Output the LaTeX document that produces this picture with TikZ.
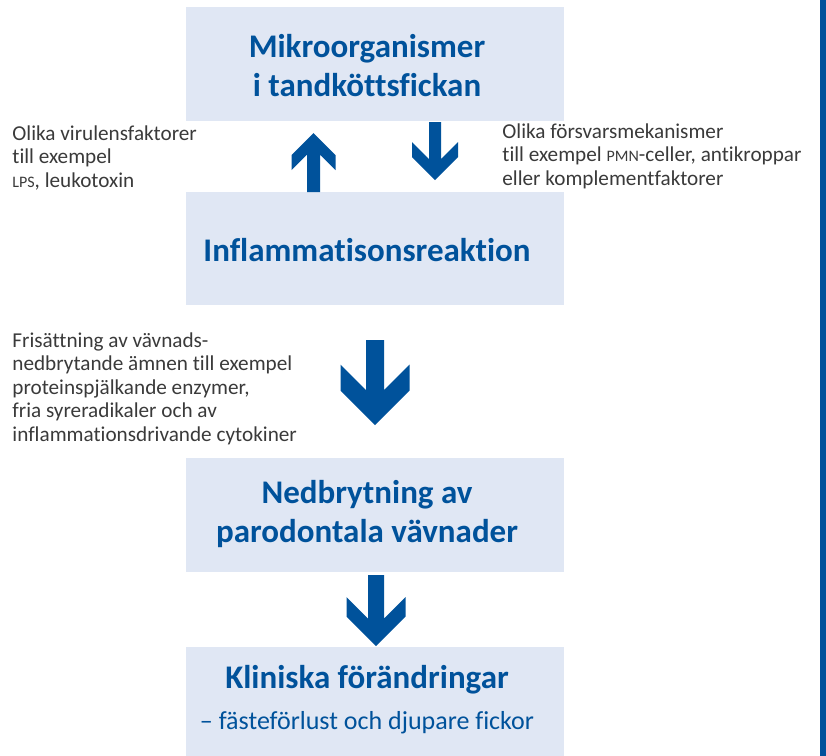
\documentclass[tikz,border=0pt]{standalone}
\usepackage{fontspec}
\setmainfont{Carlito}[Ligatures=NoCommon]
\usetikzlibrary{positioning}

\definecolor{boxblue}{HTML}{E0E7F4}
\definecolor{darkblue}{HTML}{00529B}
\definecolor{textgray}{HTML}{3A3A3A}

% small caps made by hand (LPS, PMN)
\newcommand\smcap[1]{{\fontsize{8}{11.75}\selectfont #1}}

% block arrow: cx, tail y, tip y, shaft half, head half, thickness, dir (1 down, -1 up)
\newcommand\blockarrow[7]{%
  \fill[darkblue] (#1-#4,#2) -- (#1+#4,#2)
    -- (#1+#4,{#3-(#7)*(#4+#6)}) -- (#1+#5,{#3-(#7)*(#5+#6)})
    -- (#1+#5,{#3-(#7)*#5}) -- (#1,#3)
    -- (#1-#5,{#3-(#7)*#5}) -- (#1-#5,{#3-(#7)*(#5+#6)})
    -- (#1-#4,{#3-(#7)*(#4+#6)}) -- cycle;}

\begin{document}
\begin{tikzpicture}[x=0.5pt,y=-0.5pt,
  box/.style={fill=boxblue,draw=none,minimum width=189pt,inner sep=0pt},
  title/.style={text=darkblue,font=\fontsize{16.5}{19.5}\selectfont\bfseries,align=center,inner sep=0pt},
  side/.style={text=textgray,font=\fontsize{10.6}{11.75}\selectfont,align=left,inner sep=0pt,anchor=north west}]

% ===== Rahmen (Seitengröße) =====
\useasboundingbox (0,0) rectangle (826,756);

% ===== Kästen =====
\node[box,minimum height=57pt]   (mikro)  at (375,64)    {};
\node[box,minimum height=56.5pt] (infl)   at (375,248.5) {};
\node[box,minimum height=57pt]   (nedbr)  at (375,515)   {};
\node[box,minimum height=54.5pt] (klin)   at (375,701.5) {};

% ===== Titel in den Kästen =====
\node[title] (mikrotxt) at (367,66)  {Mikroorganismer\\i tandköttsfickan};
\node[title] (infltxt)  at (367,250) {Inflammatisonsreaktion};
\node[title] (nedbrtxt) at (367,514) {Nedbrytning av\\parodontala vävnader};
\node[title] (klintxt)  at (367,700) {Kliniska förändringar\\[1pt]
  {\fontsize{13}{14}\selectfont\mdseries – fästeförlust och djupare fickor}};

% ===== Seitentexte =====
\node[side] (virul)  at (12,125)  {Olika virulensfaktorer\\till exempel\\\smcap{LPS}, leukotoxin};
\node[side] (forsv)  at (502,123) {Olika försvarsmekanismer\\till exempel \smcap{PMN}-celler, antikroppar\\eller komplementfaktorer};
\node[side] (frisat) at (12,332)  {Frisättning av vävnads-\\nedbrytande ämnen till exempel\\proteinspjälkande enzymer,\\fria syreradikaler och av\\inflammationsdrivande cytokiner};

% ===== Pfeile =====
\blockarrow{313.5}{192}{133}{6.5}{22}{15}{-1}
\blockarrow{435}{122}{180}{6}{23}{15}{1}
\blockarrow{375}{340}{425}{9}{34.5}{26}{1}
\blockarrow{376}{575}{646}{8}{29.5}{19.5}{1}

% ===== Randbalken rechts =====
\fill[darkblue] (820,0) rectangle (826,756);

\end{tikzpicture}
\end{document}
